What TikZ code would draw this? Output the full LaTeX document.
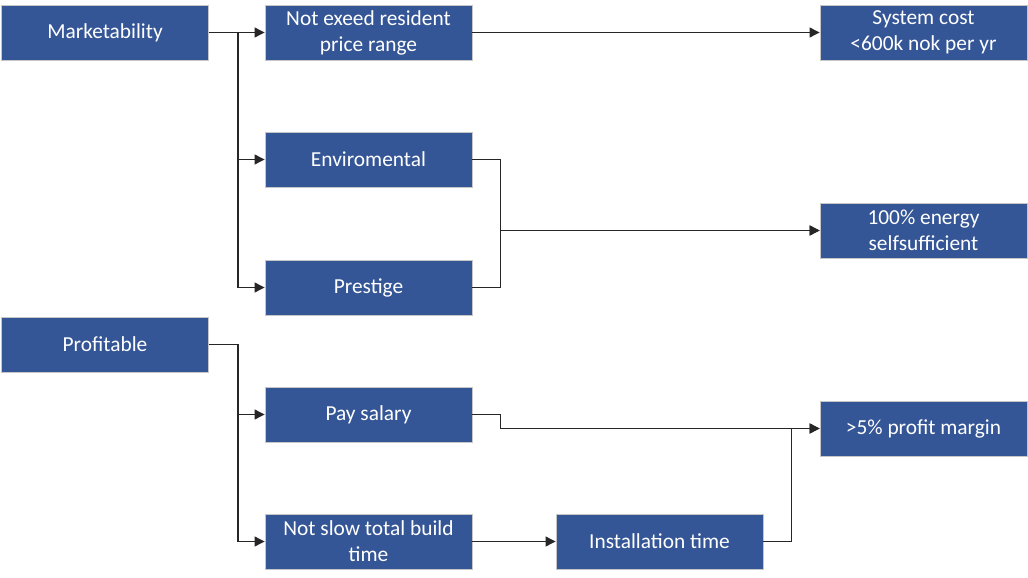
\documentclass[tikz,border=0pt]{standalone}
\usepackage{fontspec}
\setmainfont{Carlito}
\usetikzlibrary{arrows.meta}
\definecolor{boxblue}{RGB}{53,86,150}
\begin{document}
\begin{tikzpicture}[x=0.025cm, y=-0.025cm,
	goal/.style={draw=gray!45, line width=0.6pt, fill=boxblue, text=white, minimum width=5.175cm, minimum height=1.375cm, inner sep=0pt, align=center, font=\fontsize{15.2}{18.5}\selectfont},
	link/.style={draw=black!85, line width=0.8pt, -{Triangle[length=7pt,width=7pt]}}]
	\useasboundingbox (0,0) rectangle (1028,578);
	\node[goal] (Mk) at (105,32.5) {Marketability};
	\node[goal] (Price) at (368.5,32.5) {Not exeed resident\\price range};
	\node[goal] (Cost) at (923.5,32.5) {System cost\\<600k nok per yr};
	\node[goal] (Env) at (368.5,159.5) {Enviromental};
	\node[goal] (Pres) at (368.5,287.5) {Prestige};
	\node[goal] (Self) at (923.5,230.5) {100\% energy\\selfsufficient};
	\node[goal] (Prof) at (105,344.5) {Profitable};
	\node[goal] (Pay) at (368.5,414.5) {Pay salary};
	\node[goal] (Margin) at (923.5,428.5) {>5\% profit margin};
	\node[goal] (Build) at (368.5,541.5) {Not slow total build\\time};
	\node[goal] (Inst) at (659.5,541.5) {Installation time};
	\draw[link] (Mk.east) -- (Price.west);
	\draw[link] (Mk.east) -- ++(29,0) |- (Env.west);
	\draw[link] (Mk.east) -- ++(29,0) |- (Pres.west);
	\draw[link] (Price.east) -- (Cost.west);
	\draw[link] (Env.east) -- ++(28,0) |- (Self.west);
	\draw[link] (Pres.east) -- ++(28,0) |- (Self.west);
	\draw[link] (Prof.east) -- ++(29,0) |- (Pay.west);
	\draw[link] (Prof.east) -- ++(29,0) |- (Build.west);
	\draw[link] (Build.east) -- (Inst.west);
	\draw[link] (Pay.east) -- ++(28,0) |- (Margin.west);
	\draw[link] (Inst.east) -- ++(28,0) |- (Margin.west);
\end{tikzpicture}
\end{document}
